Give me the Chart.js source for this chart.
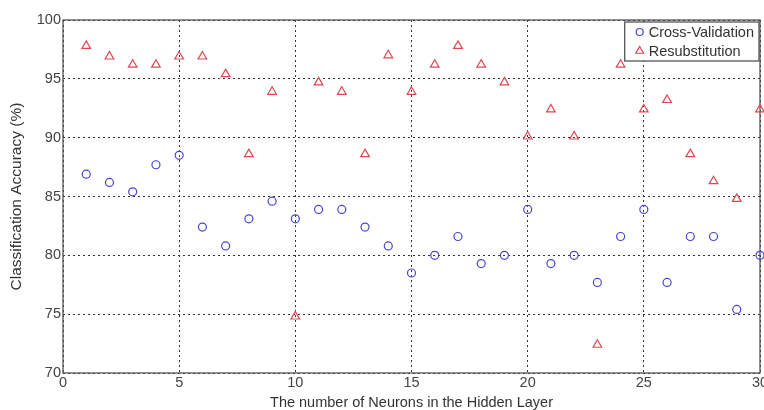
<!DOCTYPE html>
<html>
<head>
<meta charset="utf-8">
<script src="https://cdn.jsdelivr.net/npm/chart.js@4.4.0/dist/chart.umd.min.js"></script>
<style>
  html, body { margin: 0; padding: 0; background: #fff; overflow: hidden; }
  #wrap { width: 764px; height: 410px; }
  canvas { display: block; }
</style>
</head>
<body>
<div id="wrap"><canvas id="myChart" width="764" height="410"></canvas></div>
<script>
const neurons = [1, 2, 3, 4, 5, 6, 7, 8, 9, 10, 11, 12, 13, 14, 15, 16, 17, 18, 19, 20, 21, 22, 23, 24, 25, 26, 27, 28, 29, 30];
const crossValidation = [86.9, 86.2, 85.4, 87.7, 88.5, 82.4, 80.8, 83.1, 84.6, 83.1, 83.9, 83.9, 82.4, 80.8, 78.5, 80.0, 81.6, 79.3, 80.0, 83.9, 79.3, 80.0, 77.7, 81.6, 83.9, 77.7, 81.6, 81.6, 75.4, 80.0];
const resubstitution = [97.8, 96.9, 96.2, 96.2, 96.9, 96.9, 95.4, 88.6, 93.9, 74.8, 94.7, 93.9, 88.6, 97.0, 93.9, 96.2, 97.8, 96.2, 94.7, 90.1, 92.4, 90.1, 72.4, 96.2, 92.4, 93.2, 88.6, 86.3, 84.8, 92.4];
const xTicks = [0, 5, 10, 15, 20, 25, 30];
const yTicks = [70, 75, 80, 85, 90, 95, 100];

const blue = 'rgb(70, 70, 210)';
const red = 'rgb(225, 70, 80)';
const font = 'Liberation Sans, Arial, sans-serif';

// frame around the plot area + boxed legend in the top right corner
const framePlugin = {
    id: 'frame',
    beforeDatasetsDraw(chart) {
        const { ctx, chartArea: a } = chart;
        ctx.save();
        ctx.strokeStyle = '#555';
        ctx.lineWidth = 1.3;
        ctx.strokeRect(a.left, a.top, a.right - a.left, a.bottom - a.top);
        ctx.restore();
    },
    afterDraw(chart) {
        const { ctx, chartArea: a } = chart;
        ctx.save();
        ctx.font = '14.5px ' + font;
        const sets = chart.data.datasets;
        const textW = Math.max(...sets.map(d => ctx.measureText(d.label).width));
        const w = 24 + textW + 5, h = 39;
        const x0 = a.right - 1 - w, y0 = a.top + 2;
        ctx.fillStyle = '#fff';
        ctx.fillRect(x0, y0, w, h);
        ctx.strokeStyle = '#555';
        ctx.lineWidth = 1.3;
        ctx.strokeRect(x0, y0, w, h);
        sets.forEach((d, i) => {
            const cy = y0 + 10 + i * 19;
            const cx = x0 + 15;
            ctx.strokeStyle = d.borderColor;
            ctx.lineWidth = 1.2;
            ctx.beginPath();
            if (d.pointStyle === 'triangle') {
                const r = 4.5;
                ctx.moveTo(cx, cy - r);
                ctx.lineTo(cx + r * 0.866, cy + r * 0.5);
                ctx.lineTo(cx - r * 0.866, cy + r * 0.5);
                ctx.closePath();
            } else {
                ctx.arc(cx, cy, 3.5, 0, Math.PI * 2);
            }
            ctx.stroke();
            ctx.fillStyle = '#333';
            ctx.textBaseline = 'middle';
            ctx.fillText(d.label, x0 + 24, cy + 1);
        });
        ctx.restore();
    }
};

const ctx = document.getElementById('myChart').getContext('2d');
const myChart = new Chart(ctx, {
    type: 'scatter',
    data: {
        datasets: [{
            label: 'Cross-Validation',
            data: neurons.map((n, i) => ({ x: n, y: crossValidation[i] })),
            pointStyle: 'circle',
            pointRadius: 4,
            borderColor: blue,
            backgroundColor: 'rgba(0,0,0,0)',
            borderWidth: 1.2,
            clip: false
        }, {
            label: 'Resubstitution',
            data: neurons.map((n, i) => ({ x: n, y: resubstitution[i] })),
            pointStyle: 'triangle',
            pointRadius: 5,
            borderColor: red,
            backgroundColor: 'rgba(0,0,0,0)',
            borderWidth: 1.2,
            clip: false
        }]
    },
    options: {
        responsive: false,
        animation: false,
        layout: { autoPadding: false, padding: { top: 20, right: 4, left: 0, bottom: 0 } },
        plugins: {
            legend: { display: false },
            tooltip: { enabled: false }
        },
        scales: {
            x: {
                type: 'linear',
                min: 0,
                max: 30,
                afterBuildTicks(axis) { axis.ticks = xTicks.map(v => ({ value: v })); },
                afterFit(axis) {
                    axis.height = 37;
                    // let the last label run off the edge like the original
                    axis.paddingRight = 0;
                    axis.paddingLeft = 0;
                },
                grid: { color: '#333', lineWidth: 1, drawTicks: false },
                border: { display: false, dash: [2, 3] },
                ticks: { padding: 1, color: '#444', font: { family: font, size: 14.5 } },
                title: {
                    display: true,
                    text: 'The number of Neurons in the Hidden Layer',
                    color: '#333',
                    font: { family: font, size: 14.5, lineHeight: 1 },
                    padding: { top: 0, bottom: 0 }
                }
            },
            y: {
                type: 'linear',
                min: 70,
                max: 100,
                afterBuildTicks(axis) { axis.ticks = yTicks.map(v => ({ value: v })); },
                afterFit(axis) { axis.width = 63; },
                grid: { color: '#333', lineWidth: 1, drawTicks: false },
                border: { display: false, dash: [2, 3] },
                ticks: { padding: 2, color: '#444', font: { family: font, size: 14.5 } },
                title: {
                    display: true,
                    text: 'Classification Accuracy (%)',
                    color: '#333',
                    font: { family: font, size: 15.5, lineHeight: 1 },
                    padding: { top: 9, bottom: 0 }
                }
            }
        }
    },
    plugins: [framePlugin]
});
</script>
</body>
</html>
